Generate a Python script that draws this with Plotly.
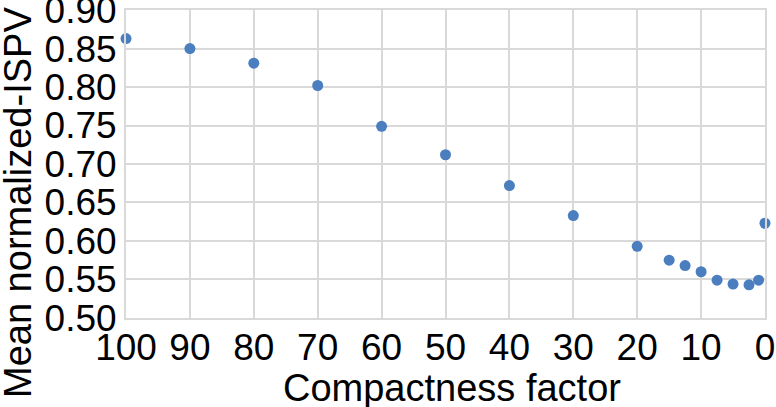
import plotly.graph_objects as go

compactness = [100, 90, 80, 70, 60, 50, 40, 30, 20, 15, 12.5, 10, 7.5, 5, 2.5, 1, 0]
mean_ispv = [0.863, 0.850, 0.831, 0.802, 0.749, 0.712, 0.672, 0.633, 0.593, 0.575,
             0.568, 0.560, 0.549, 0.544, 0.543, 0.549, 0.623]
x_ticks = [100, 90, 80, 70, 60, 50, 40, 30, 20, 10, 0]
y_ticks = [0.50, 0.55, 0.60, 0.65, 0.70, 0.75, 0.80, 0.85, 0.90]

FONT = "Liberation Sans, Arial, sans-serif"
GRID = "#d9d9d9"
L, R, T, B = 126, 11, 10, 89
PW, PH = 776 - L - R, 407 - T - B

fig = go.Figure()
fig.add_trace(go.Scatter(
    x=compactness, y=mean_ispv, mode="markers",
    marker=dict(color="#4a7ebf", size=11, line=dict(width=0)),
    cliponaxis=False, showlegend=False, hoverinfo="skip",
))

fig.update_layout(
    width=776, height=407,
    margin=dict(l=L, r=R, t=T, b=B, autoexpand=False),
    paper_bgcolor="white", plot_bgcolor="white",
    font=dict(family=FONT, color="black", size=37),
    xaxis=dict(
        range=[100.001, -0.001], tickvals=x_ticks, ticktext=[str(v) for v in x_ticks],
        showgrid=True, gridcolor=GRID, gridwidth=2, zeroline=False,
        showline=True, linecolor=GRID, linewidth=2, mirror=True,
        ticks="", tickfont=dict(size=37, family=FONT), automargin=False,
        ticklabeloverflow="allow", ticklabelstandoff=-4,
    ),
    yaxis=dict(
        range=[0.4999, 0.9001], tickvals=y_ticks, ticktext=[f"{v:.2f}" for v in y_ticks],
        showgrid=True, gridcolor=GRID, gridwidth=2, zeroline=False,
        showline=True, linecolor=GRID, linewidth=2, mirror=True,
        ticks="", tickfont=dict(size=37, family=FONT), automargin=False,
        ticklabeloverflow="allow",
    ),
    annotations=[
        dict(
            text="Mean normalized-ISPV", textangle=-90, showarrow=False,
            xref="paper", yref="paper", x=-L / PW, y=(318 - 203) / PH,
            xanchor="left", yanchor="middle", xshift=-5,
            font=dict(size=38, family=FONT, color="black"),
        ),
        dict(
            text="Compactness factor", showarrow=False,
            xref="paper", yref="paper", x=(452 - L) / PW, y=(318 - 388) / PH,
            xanchor="center", yanchor="middle",
            font=dict(size=38, family=FONT, color="black"),
        ),
    ],
)

fig.write_html(
    "out.html",
    config={"displayModeBar": False, "staticPlot": True},
    post_script="document.body.style.margin='0';document.body.style.overflow='hidden';",
)
